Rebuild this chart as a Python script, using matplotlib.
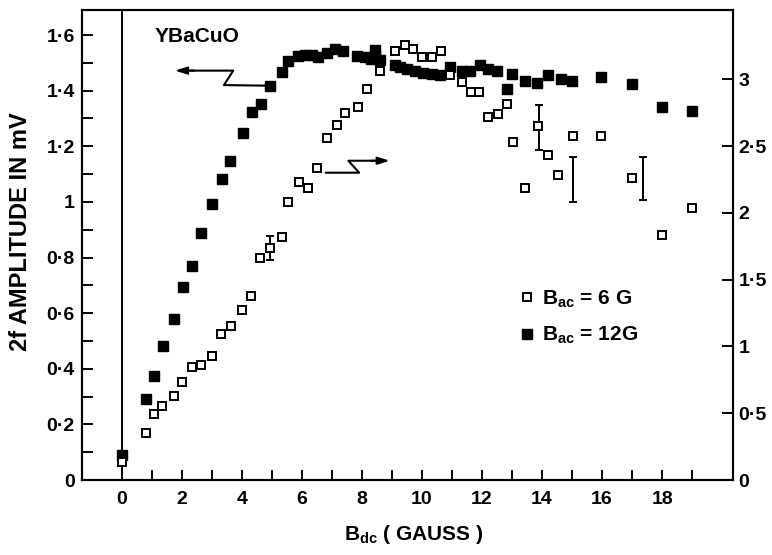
import matplotlib
matplotlib.use('Agg')
import matplotlib.pyplot as plt
from matplotlib.lines import Line2D

plt.rcParams['font.family'] = ['Liberation Sans', 'DejaVu Sans']
plt.rcParams['mathtext.default'] = 'regular'

# ---------------- data ----------------
# B_ac = 12 G  (filled squares, left axis, mV)
bdc_12 = [0.00, 0.81, 1.07, 1.37, 1.73, 2.06, 2.34, 2.66, 3.02, 3.34, 3.61, 4.05,
          4.34, 4.64, 4.93, 5.34, 5.53, 5.88, 6.10, 6.35, 6.55, 6.83, 7.10, 7.38,
          7.83, 8.10, 8.32, 8.43, 8.45, 8.60, 9.10, 9.27, 9.49, 9.77, 10.04, 10.32,
          10.60, 10.93, 11.32, 11.60, 11.93, 12.21, 12.49, 12.82, 13.01, 13.43, 13.82,
          14.21, 14.62, 15.01, 15.98, 16.98, 18.00, 19.01]
amp_12 = [0.090, 0.291, 0.375, 0.482, 0.579, 0.694, 0.770, 0.889, 0.992, 1.083, 1.146, 1.247,
          1.324, 1.351, 1.418, 1.467, 1.508, 1.525, 1.528, 1.528, 1.520, 1.536, 1.549, 1.544,
          1.525, 1.520, 1.513, 1.546, 1.528, 1.510, 1.492, 1.486, 1.477, 1.472, 1.465, 1.460,
          1.457, 1.486, 1.472, 1.472, 1.491, 1.477, 1.472, 1.405, 1.460, 1.435, 1.429,
          1.456, 1.441, 1.436, 1.450, 1.424, 1.340, 1.328]

# B_ac = 6 G  (open squares, right axis)
bdc_6 = [0.00, 0.81, 1.07, 1.34, 1.73, 2.00, 2.34, 2.63, 3.02, 3.32, 3.63, 4.02,
         4.32, 4.62, 4.94, 5.33, 5.55, 5.91, 6.21, 6.50, 6.85, 7.16, 7.44, 7.87,
         8.16, 8.60, 9.10, 9.43, 9.71, 9.99, 10.32, 10.62, 10.93, 11.32, 11.62, 11.91,
         12.21, 12.52, 12.82, 13.04, 13.44, 13.85, 14.19, 14.54, 15.03, 15.98, 16.98,
         18.00, 19.01]
amp_6 = [0.135, 0.354, 0.492, 0.556, 0.631, 0.731, 0.848, 0.861, 0.928, 1.093, 1.153, 1.272,
         1.377, 1.664, 1.734, 1.817, 2.079, 2.233, 2.188, 2.333, 2.562, 2.655, 2.745, 2.794,
         2.924, 3.061, 3.213, 3.256, 3.224, 3.168, 3.168, 3.213, 3.031, 2.981, 2.906, 2.906,
         2.719, 2.739, 2.814, 2.528, 2.183, 2.650, 2.433, 2.283, 2.577, 2.575, 2.263,
         1.834, 2.034]

# error bars (right axis)
err_x = [4.94, 13.91, 15.04, 17.37]
err_lo = [1.647, 2.470, 2.083, 2.096]
err_hi = [1.826, 2.807, 2.415, 2.420]

# ticks
xticks_major = list(range(0, 20))
xtick_labels = ['0', '', '2', '', '4', '', '6', '', '8', '', '10', '', '12', '', '14', '',
                '16', '', '18', '']
yticks_left = [0, 0.2, 0.4, 0.6, 0.8, 1.0, 1.2, 1.4, 1.6]
ylabels_left = ['0', '0·2', '0·4', '0·6', '0·8', '1', '1·2', '1·4', '1·6']
yticks_left_minor = [0.1, 0.3, 0.5, 0.7, 0.9, 1.1, 1.3, 1.5]
yticks_right = [0, 0.5, 1.0, 1.5, 2.0, 2.5, 3.0]
ylabels_right = ['0', '0·5', '1', '1·5', '2', '2·5', '3']

# ---------------- figure ----------------
fig = plt.figure(figsize=(7.72, 5.55), dpi=100)
ax = fig.add_axes([0.1058, 0.1351, 0.8437, 0.8469])
ax2 = ax.twinx()

ax.set_xlim(-1.33, 20.36)
ax.set_ylim(0, 1.69)
ax2.set_ylim(0, 3.518)

lw = 1.5
for a in (ax, ax2):
    for s in a.spines.values():
        s.set_linewidth(lw)

# vertical line at B=0
ax.axvline(0, color='black', lw=1.4)

# data
ax.plot(bdc_12, amp_12, ls='none', marker='s', ms=7.2, mfc='black', mec='black', zorder=3)
ax2.plot(bdc_6, amp_6, ls='none', marker='s', ms=5.6, mfc='white', mec='black', mew=1.4, zorder=3)
mid = [(l + h) / 2 for l, h in zip(err_lo, err_hi)]
half = [(h - l) / 2 for l, h in zip(err_lo, err_hi)]
ax2.errorbar(err_x, mid, yerr=half, fmt='none', ecolor='black', elinewidth=1.4,
             capsize=3, capthick=1.4)

# ticks
ax.set_xticks(xticks_major)
ax.set_xticklabels(xtick_labels)
ax.set_yticks(yticks_left)
ax.set_yticklabels(ylabels_left)
ax.set_yticks(yticks_left_minor, minor=True)
ax2.set_yticks(yticks_right)
ax2.set_yticklabels(ylabels_right)

tick_font = 14
ax.tick_params(axis='x', which='both', direction='in', length=7, width=1.4,
               labelsize=tick_font, pad=8)
ax.tick_params(axis='y', which='both', direction='in', length=8, width=1.4,
               labelsize=tick_font, pad=5)
ax2.tick_params(axis='y', which='both', direction='in', length=8, width=1.4,
                labelsize=tick_font, pad=4)
for lab in ax.get_xticklabels() + ax.get_yticklabels() + ax2.get_yticklabels():
    lab.set_fontweight('bold')

ax.set_ylabel('2f AMPLITUDE IN mV', fontsize=17, fontweight='bold')
ax.yaxis.set_label_coords(-0.076, 0.528)
ax.set_xlabel('B$_{dc}$ ( GAUSS )', fontsize=15, fontweight='bold')
ax.xaxis.set_label_coords(0.51, -0.092)

# sample label
ax.text(1.1, 1.595, 'YBaCuO', fontsize=15, fontweight='bold', ha='left', va='center')

# Z-shaped arrows
ax.plot([4.77, 3.407, 3.716, 2.3], [1.418, 1.420, 1.472, 1.472], color='black', lw=1.5)
ax.annotate('', xy=(1.775, 1.472), xytext=(2.4, 1.472),
            arrowprops=dict(arrowstyle='-|>,head_length=0.7,head_width=0.22',
                            color='black', lw=1.5, shrinkA=0, shrinkB=0))
ax.plot([6.80, 7.91, 7.55, 8.4], [1.105, 1.105, 1.148, 1.148], color='black', lw=1.5)
ax.annotate('', xy=(8.93, 1.148), xytext=(8.3, 1.148),
            arrowprops=dict(arrowstyle='-|>,head_length=0.7,head_width=0.22',
                            color='black', lw=1.5, shrinkA=0, shrinkB=0))

# legend
handles = [Line2D([], [], ls='none', marker='s', ms=5.6, mfc='white', mec='black', mew=1.4),
           Line2D([], [], ls='none', marker='s', ms=7.2, mfc='black', mec='black')]
labels = ['B$_{ac}$ = 6 G', 'B$_{ac}$ = 12G']
leg = ax.legend(handles, labels, loc='upper left', bbox_to_anchor=(0.672, 0.408),
                frameon=False, fontsize=15, handlelength=0.7, handletextpad=0.4,
                labelspacing=0.75, borderpad=0, borderaxespad=0)
for t in leg.get_texts():
    t.set_fontweight('bold')

fig.savefig('out.png', dpi=100)
